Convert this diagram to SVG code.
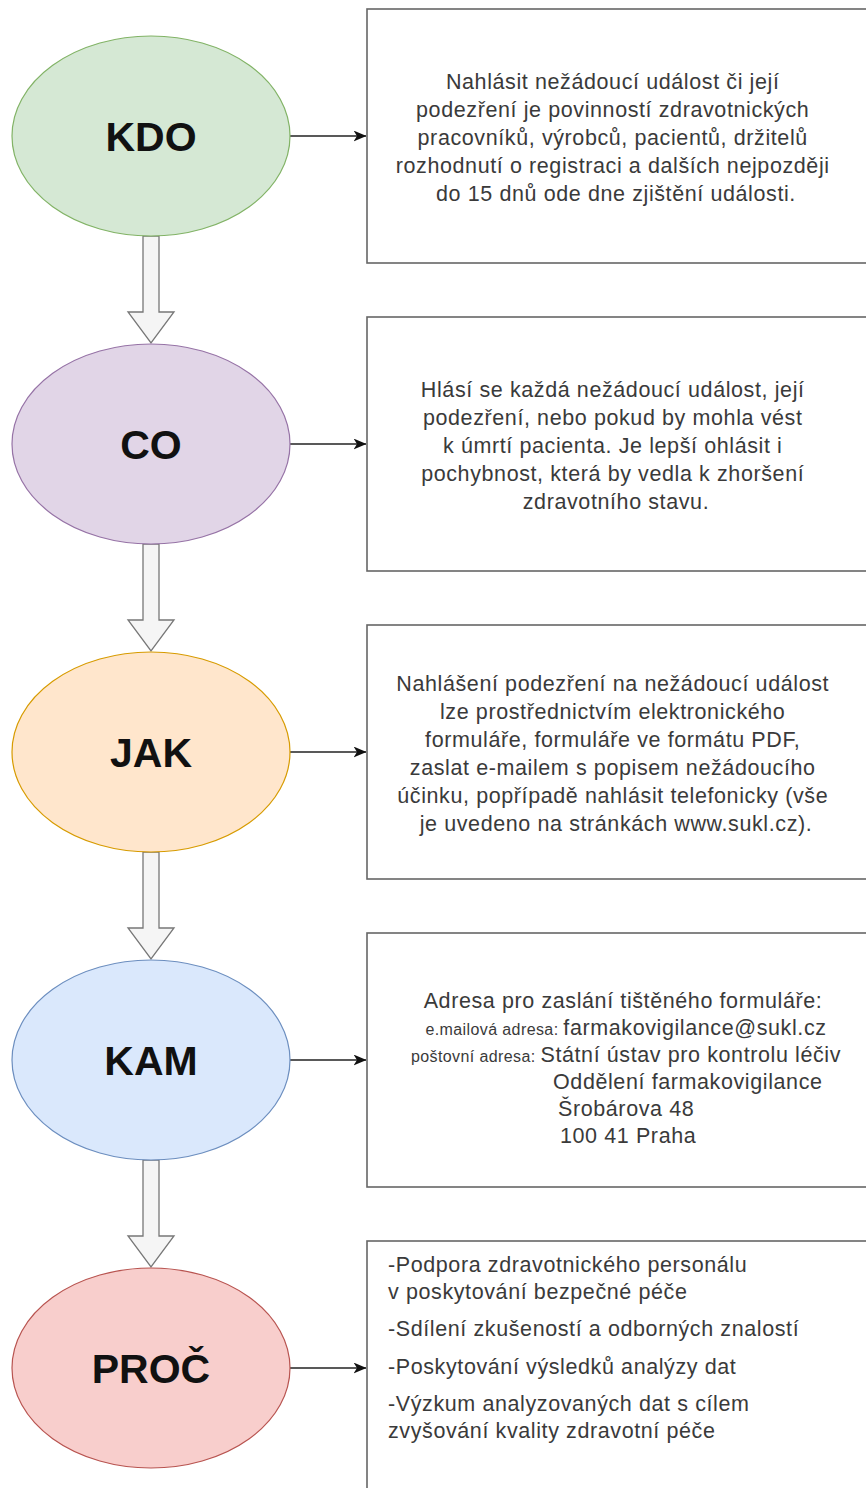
<svg xmlns="http://www.w3.org/2000/svg" width="866" height="1488" viewBox="0 0 866 1488">
  <style>
    .lbl { font-family: "Liberation Sans", Arial, sans-serif; font-weight: bold; font-size: 41px; fill: #111; text-anchor: middle; }
    .box { fill: #ffffff; stroke: #666666; stroke-width: 1.6; }
    .txt { font-family: "Liberation Sans", Arial, sans-serif; font-size: 21.5px; letter-spacing: 0.6px; fill: #3a3a3a; }
    .c { text-anchor: middle; }
    .sm { font-size: 16px; letter-spacing: 0.4px; }
    .down { fill: #f5f5f5; stroke: #777777; stroke-width: 1.3; stroke-linejoin: miter; }
    .link { stroke: #222222; stroke-width: 1.5; fill: none; marker-end: url(#tip); }
  </style>
  <defs>
    <marker id="tip" viewBox="0 0 13 11" refX="12.5" refY="5.5" markerWidth="13" markerHeight="11" markerUnits="userSpaceOnUse" orient="auto">
      <path d="M0,0 L13,5.5 L0,11 L3.5,5.5 Z" fill="#111111"/>
    </marker>
    <path id="blockArrow" d="M-8,0 L8,0 L8,76 L23,76 L0,107 L-23,76 L-8,76 Z"/>
  </defs>
  <rect width="866" height="1488" fill="#ffffff"/>

  <!-- connectors -->
  <g id="connectors">
    <line class="link" x1="290" y1="136" x2="366" y2="136"/>
    <line class="link" x1="290" y1="444" x2="366" y2="444"/>
    <line class="link" x1="290" y1="752" x2="366" y2="752"/>
    <line class="link" x1="290" y1="1060" x2="366" y2="1060"/>
    <line class="link" x1="290" y1="1368" x2="366" y2="1368"/>
    <use href="#blockArrow" class="down" transform="translate(151,236)"/>
    <use href="#blockArrow" class="down" transform="translate(151,544)"/>
    <use href="#blockArrow" class="down" transform="translate(151,852)"/>
    <use href="#blockArrow" class="down" transform="translate(151,1160)"/>
  </g>

  <!-- KDO -->
  <g id="kdo">
    <ellipse cx="151" cy="136" rx="139" ry="100" fill="#d5e8d4" stroke="#82b366" stroke-width="1.2"/>
    <text class="lbl" x="151" y="151">KDO</text>
  </g>
  <g id="kdo-text">
    <rect class="box" x="367" y="9" width="510" height="254"/>
    <text class="txt c">
      <tspan x="616" y="89">Nahlásit nežádoucí událost či její</tspan>
      <tspan x="616" y="117">podezření je povinností zdravotnických</tspan>
      <tspan x="616" y="145">pracovníků, výrobců, pacientů, držitelů</tspan>
      <tspan x="616" y="173">rozhodnutí o registraci a dalších nejpozději</tspan>
      <tspan x="616" y="201">do 15 dnů ode dne zjištění události.</tspan>
    </text>
  </g>

  <!-- CO -->
  <g id="co">
    <ellipse cx="151" cy="444" rx="139" ry="100" fill="#e1d5e7" stroke="#9673a6" stroke-width="1.2"/>
    <text class="lbl" x="151" y="459">CO</text>
  </g>
  <g id="co-text">
    <rect class="box" x="367" y="317" width="510" height="254"/>
    <text class="txt c">
      <tspan x="616" y="397">Hlásí se každá nežádoucí událost, její</tspan>
      <tspan x="616" y="425">podezření, nebo pokud by mohla vést</tspan>
      <tspan x="616" y="453">k úmrtí pacienta. Je lepší ohlásit i</tspan>
      <tspan x="616" y="481">pochybnost, která by vedla k zhoršení</tspan>
      <tspan x="616" y="509">zdravotního stavu.</tspan>
    </text>
  </g>

  <!-- JAK -->
  <g id="jak">
    <ellipse cx="151" cy="752" rx="139" ry="100" fill="#ffe6cc" stroke="#d79b00" stroke-width="1.2"/>
    <text class="lbl" x="151" y="767">JAK</text>
  </g>
  <g id="jak-text">
    <rect class="box" x="367" y="625" width="510" height="254"/>
    <text class="txt c">
      <tspan x="616" y="691">Nahlášení podezření na nežádoucí událost</tspan>
      <tspan x="616" y="719">lze prostřednictvím elektronického</tspan>
      <tspan x="616" y="747">formuláře, formuláře ve formátu PDF,</tspan>
      <tspan x="616" y="775">zaslat e-mailem s popisem nežádoucího</tspan>
      <tspan x="616" y="803">účinku, popřípadě nahlásit telefonicky (vše</tspan>
      <tspan x="616" y="831">je uvedeno na stránkách www.sukl.cz).</tspan>
    </text>
  </g>

  <!-- KAM -->
  <g id="kam">
    <ellipse cx="151" cy="1060" rx="139" ry="100" fill="#dae8fc" stroke="#6c8ebf" stroke-width="1.2"/>
    <text class="lbl" x="151" y="1075">KAM</text>
  </g>
  <g id="kam-text">
    <rect class="box" x="367" y="933" width="510" height="254"/>
    <text class="txt c" x="623" y="1008">Adresa pro zaslání tištěného formuláře:</text>
    <text class="txt c" x="626" y="1035"><tspan class="sm">e.mailová adresa: </tspan>farmakovigilance@sukl.cz</text>
    <text class="txt c" x="626" y="1062"><tspan class="sm">poštovní adresa: </tspan>Státní ústav pro kontrolu léčiv</text>
    <text class="txt" x="553" y="1089">Oddělení farmakovigilance</text>
    <text class="txt" x="558" y="1116">Šrobárova 48</text>
    <text class="txt" x="560" y="1143">100 41 Praha</text>
  </g>

  <!-- PROČ -->
  <g id="proc">
    <ellipse cx="151" cy="1368" rx="139" ry="100" fill="#f8cecc" stroke="#b85450" stroke-width="1.2"/>
    <text class="lbl" x="151" y="1383">PROČ</text>
  </g>
  <g id="proc-text">
    <rect class="box" x="367" y="1241" width="510" height="260"/>
    <text class="txt">
      <tspan x="388" y="1272">-Podpora zdravotnického personálu</tspan>
      <tspan x="388" y="1299">v poskytování bezpečné péče</tspan>
      <tspan x="388" y="1336">-Sdílení zkušeností a odborných znalostí</tspan>
      <tspan x="388" y="1374">-Poskytování výsledků analýzy dat</tspan>
      <tspan x="388" y="1411">-Výzkum analyzovaných dat s cílem</tspan>
      <tspan x="388" y="1438">zvyšování kvality zdravotní péče</tspan>
    </text>
  </g>
</svg>
